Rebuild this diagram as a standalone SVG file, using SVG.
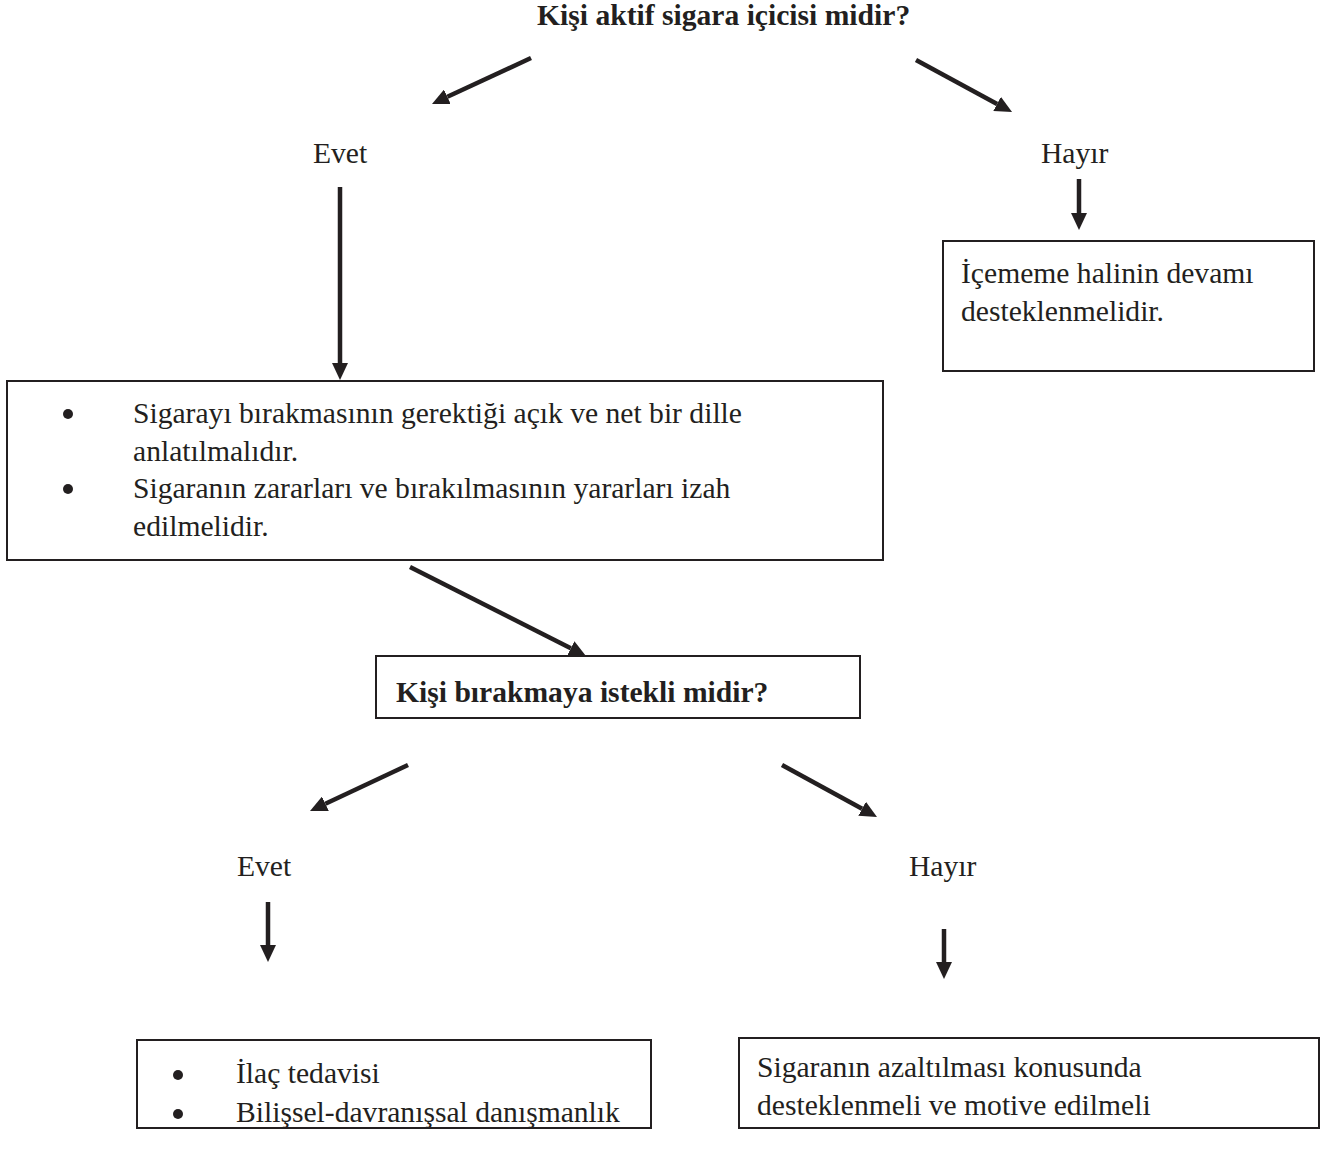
<svg xmlns="http://www.w3.org/2000/svg" width="1338" height="1155" viewBox="0 0 1338 1155">
<style>
text{font-family:"Liberation Serif","Times New Roman",serif;font-size:29.6px;fill:#231f20}
.b{font-weight:bold}
.box{fill:#fff;stroke:#231f20;stroke-width:2}
.c{stroke:#231f20;stroke-width:4.5;fill:none;marker-end:url(#ah)}
</style>
<defs>
<marker id="ah" viewBox="0 0 17 16" refX="0" refY="8" markerUnits="userSpaceOnUse" markerWidth="17" markerHeight="16" orient="auto">
<path d="M0,0 L17,8 L0,16 z" fill="#231f20"/>
</marker>
</defs>
<rect width="1338" height="1155" fill="#fff"/>
<g id="title"><text class="b" x="537" y="25">Kişi aktif sigara içicisi midir?</text></g>
<g id="evet1"><text x="313" y="163">Evet</text></g>
<g id="hayir1"><text x="1041" y="163">Hayır</text></g>
<g id="boxA">
<rect class="box" x="943" y="241" width="371" height="130"/>
<text x="961" y="283">İçememe halinin devamı</text>
<text x="961" y="321">desteklenmelidir.</text>
</g>
<g id="boxB">
<rect class="box" x="7" y="381" width="876" height="179"/>
<circle cx="68" cy="414" r="5" fill="#231f20"/>
<text x="133" y="423">Sigarayı bırakmasının gerektiği açık ve net bir dille</text>
<text x="133" y="461">anlatılmalıdır.</text>
<circle cx="68" cy="489" r="5" fill="#231f20"/>
<text x="133" y="498">Sigaranın zararları ve bırakılmasının yararları izah</text>
<text x="133" y="536">edilmelidir.</text>
</g>
<g id="boxC">
<rect class="box" x="376" y="656" width="484" height="62"/>
<text class="b" x="396" y="702">Kişi bırakmaya istekli midir?</text>
</g>
<g id="evet2"><text x="237" y="876">Evet</text></g>
<g id="hayir2"><text x="909" y="876">Hayır</text></g>
<g id="boxD">
<rect class="box" x="137" y="1040" width="514" height="88"/>
<circle cx="178" cy="1075" r="5" fill="#231f20"/>
<text x="236" y="1083">İlaç tedavisi</text>
<circle cx="178" cy="1114" r="5" fill="#231f20"/>
<text x="236" y="1122">Bilişsel-davranışsal danışmanlık</text>
</g>
<g id="boxE">
<rect class="box" x="739" y="1038" width="580" height="90"/>
<text x="757" y="1077">Sigaranın azaltılması konusunda</text>
<text x="757" y="1115">desteklenmeli ve motive edilmeli</text>
</g>
<g id="connectors">
<line class="c" x1="531" y1="58" x2="447.4" y2="96.8"/>
<line class="c" x1="916" y1="60" x2="997.1" y2="103.9"/>
<line class="c" x1="340" y1="187" x2="340" y2="363"/>
<line class="c" x1="1079" y1="179" x2="1079" y2="213"/>
<line class="c" x1="410" y1="567" x2="570.8" y2="648.3"/>
<line class="c" x1="408" y1="765" x2="325.4" y2="803.8"/>
<line class="c" x1="782" y1="765" x2="862.1" y2="808.8"/>
<line class="c" x1="268" y1="902" x2="268" y2="945"/>
<line class="c" x1="944" y1="929" x2="944" y2="962"/>
</g>
</svg>
